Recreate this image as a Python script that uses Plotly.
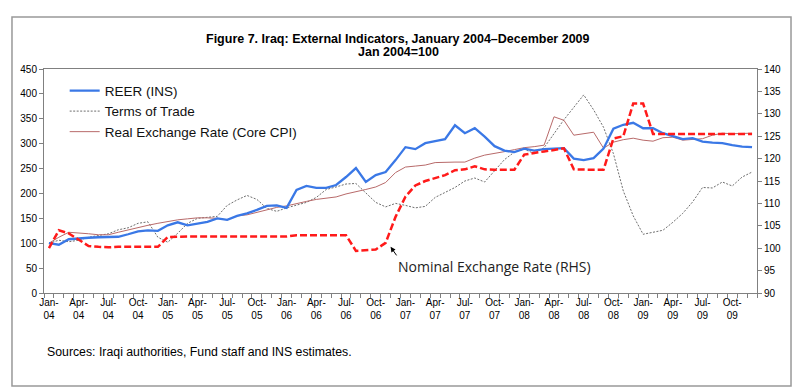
import plotly.graph_objects as go

# ---- data (monthly, Jan 2004 = index 0 ... Dec 2009) ----
months = [f"{m}-{y:02d}" for y in range(4, 10) for m in
          ["Jan", "Feb", "Mar", "Apr", "May", "Jun", "Jul", "Aug", "Sep", "Oct", "Nov", "Dec"]]

reer = [100, 97, 108, 110, 111, 112, 112, 113, 118, 124,
        126, 125, 136, 142, 136, 140, 143, 150, 147, 155,
        160, 167, 175, 176, 171, 207, 215, 211, 211, 217,
        233, 251, 223, 237, 243, 267, 293, 289, 301, 305,
        309, 337, 321, 331, 314, 295, 286, 283, 290, 286,
        289, 290, 291, 270, 267, 271, 290, 330, 338, 342,
        331, 331, 321, 315, 309, 311, 304, 302, 301, 297,
        294, 293]

terms_of_trade = [100, 106, 103, 106, 112, 116, 119, 127, 131, 140,
                  143, 112, 102, 120, 140, 150, 152, 154, 176, 187,
                  196, 188, 170, 164, 171, 177, 182, 192, 208, 213,
                  219, 220, 200, 182, 173, 180, 176, 171, 174, 192,
                  202, 212, 225, 231, 223, 245, 268, 283, 289, 280,
                  292, 320, 348, 373, 398, 368, 333, 280, 205, 155,
                  118, 122, 126, 142, 160, 183, 212, 211, 223, 215,
                  233, 243]

real_er_core_cpi = [100, 112, 122, 121, 119, 117, 117, 122, 127, 131,
                    136, 140, 144, 147, 149, 151, 151, 150, 147, 155,
                    157, 162, 168, 172, 175, 180, 184, 188, 191, 193,
                    199, 203, 208, 213, 222, 242, 253, 255, 257, 262,
                    263, 263, 263, 271, 277, 280, 284, 288, 292, 294,
                    297, 354, 347, 317, 320, 323, 291, 303, 308, 311,
                    307, 305, 312, 313, 307, 309, 310, 317, 321, 320,
                    320, 321]

nominal_er_rhs = [100.0, 104.0, 103.3, 101.8, 100.5, 100.3, 100.2, 100.3, 100.3, 100.2,
                  100.2, 100.3, 102.5, 102.6, 102.6, 102.6, 102.6, 102.6, 102.6, 102.6,
                  102.6, 102.6, 102.6, 102.6, 102.6, 102.9, 102.9, 102.9, 102.9, 102.9,
                  102.9, 99.4, 99.5, 99.7, 101.2, 107.0, 111.5, 114.0, 115.0, 115.6,
                  116.3, 117.4, 117.6, 118.3, 117.6, 117.5, 117.5, 117.5, 120.9, 121.3,
                  121.6, 121.9, 122.3, 117.6, 117.5, 117.5, 117.5, 124.5, 125.0, 132.3,
                  132.3, 125.5, 125.5, 125.5, 125.5, 125.5, 125.5, 125.5, 125.5, 125.5,
                  125.5, 125.5]

tick_labels = ["Jan-<br>04", "Apr-<br>04", "Jul-<br>04", "Oct-<br>04",
               "Jan-<br>05", "Apr-<br>05", "Jul-<br>05", "Oct-<br>05",
               "Jan-<br>06", "Apr-<br>06", "Jul-<br>06", "Oct-<br>06",
               "Jan-<br>07", "Apr-<br>07", "Jul-<br>07", "Oct-<br>07",
               "Jan-<br>08", "Apr-<br>08", "Jul-<br>08", "Oct-<br>08",
               "Jan-<br>09", "Apr-<br>09", "Jul-<br>09", "Oct-<br>09"]

x = list(range(len(months)))
tick_positions = x[::3]

FONT = "Liberation Sans, Arial, sans-serif"
AXC = "#808080"

fig = go.Figure()
fig.add_trace(go.Scatter(x=x, y=terms_of_trade, name="Terms of Trade", mode="lines",
                         customdata=months, legendrank=2,
                         line=dict(color="#6e6e6e", width=1, dash="2px,1.5px")))
fig.add_trace(go.Scatter(x=x, y=real_er_core_cpi, name="Real Exchange Rate (Core CPI)",
                         mode="lines", customdata=months, legendrank=3,
                         line=dict(color="#b86a6a", width=1)))
fig.add_trace(go.Scatter(x=x, y=nominal_er_rhs, name="Nominal Exchange Rate (RHS)",
                         mode="lines", yaxis="y2", showlegend=False, customdata=months,
                         line=dict(color="#ff1a1a", width=2.5, dash="7px,3px")))
fig.add_trace(go.Scatter(x=x, y=reer, name="REER (INS)", mode="lines",
                         customdata=months, legendrank=1,
                         line=dict(color="#3a78e6", width=2.3)))

fig.update_layout(
    width=800, height=391,
    margin=dict(l=44, r=43, t=69, b=98),
    paper_bgcolor="white", plot_bgcolor="white",
    font=dict(family=FONT, color="black", size=10),
    showlegend=True,
    legend=dict(x=0.029, y=0.972, xanchor="left", yanchor="top",
                bgcolor="rgba(0,0,0,0)", font=dict(size=13.5, family=FONT, color="#111"),
                itemwidth=30, tracegroupgap=0),
    xaxis=dict(range=[-0.5, 71.5], tickmode="array", tickvals=tick_positions,
               ticktext=tick_labels, ticks="outside", ticklen=0,
               tickcolor="rgba(0,0,0,0)", showline=True, linecolor=AXC, linewidth=1,
               mirror=True, showgrid=False, zeroline=False,
               tickfont=dict(size=10, family=FONT),
               minor=dict(tickmode="linear", tick0=-0.5, dtick=1, ticks="outside",
                          ticklen=4, tickcolor=AXC, showgrid=False)),
    yaxis=dict(range=[0, 450], dtick=50, ticks="outside", ticklen=4, tickcolor=AXC,
               showline=True, linecolor=AXC, showgrid=False, zeroline=False,
               tickfont=dict(size=10, family=FONT)),
    yaxis2=dict(range=[90, 140], dtick=5, overlaying="y", side="right",
                ticks="outside", ticklen=4, tickcolor=AXC, showline=True,
                linecolor=AXC, showgrid=False, zeroline=False,
                tickfont=dict(size=10, family=FONT)),
)

fig.add_annotation(text="<b>Figure 7. Iraq: External Indicators, January 2004\u2013December 2009</b>",
                   xref="paper", yref="paper", x=0.4965, y=1.134, showarrow=False,
                   xanchor="center", yanchor="middle", font=dict(size=12.5, family=FONT))
fig.add_annotation(text="<b>Jan 2004=100</b>",
                   xref="paper", yref="paper", x=0.4965, y=1.074, showarrow=False,
                   xanchor="center", yanchor="middle", font=dict(size=12.5, family=FONT))
fig.add_annotation(text="Sources: Iraqi authorities, Fund staff and INS estimates.",
                   xref="paper", yref="paper", x=0.0014, y=-0.263, showarrow=False,
                   xanchor="left", yanchor="middle", font=dict(size=12.3, family=FONT))
fig.add_annotation(text="Nominal Exchange Rate (RHS)",
                   xref="paper", yref="paper", x=0.493, y=0.1205, showarrow=False,
                   xanchor="left", yanchor="middle",
                   font=dict(size=14, family="Open Sans, sans-serif", color="#222"))
fig.add_annotation(text="", x=34.5, y=100.3, xref="x", yref="y2", showarrow=True,
                   ax=7, ay=10, arrowhead=2, arrowsize=1, arrowwidth=1,
                   arrowcolor="black", standoff=0)

fig.add_shape(type="rect", xref="paper", yref="paper",
              x0=-0.0449, x1=1.0477, y0=-0.415, y1=1.232,
              line=dict(color="#999999", width=1.5), layer="below")

fig.write_html("out.html", config={"displayModeBar": False},
               post_script="document.body.style.margin='0px';")
